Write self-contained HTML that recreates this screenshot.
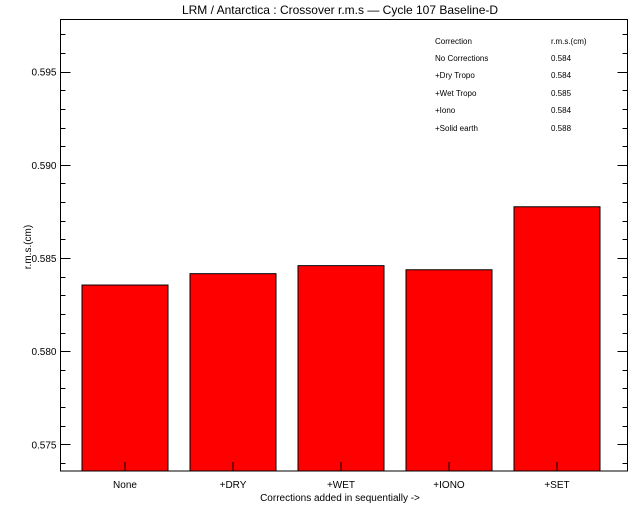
<!DOCTYPE html>
<html><head><meta charset="utf-8"><style>
body{margin:0;background:#fff}
svg{display:block;font-family:"Liberation Sans",sans-serif}
</style></head><body>
<svg id="chart" width="640" height="512">
<text x="340" y="14" font-size="12" text-anchor="middle">LRM / Antarctica : Crossover r.m.s — Cycle 107 Baseline-D</text>
<text x="31" y="247" font-size="10" text-anchor="middle" transform="rotate(-90 31 247)">r.m.s.(cm)</text>
<text x="340" y="501" font-size="10" text-anchor="middle">Corrections added in sequentially -&gt;</text>
<g id="bars"></g>
<g id="axes"></g>
<g font-size="8">
<text x="435" y="44">Correction</text><text x="551" y="44">r.m.s.(cm)</text>
<text x="435" y="61">No Corrections</text><text x="551" y="61">0.584</text>
<text x="435" y="78">+Dry Tropo</text><text x="551" y="78">0.584</text>
<text x="435" y="96">+Wet Tropo</text><text x="551" y="96">0.585</text>
<text x="435" y="113">+Iono</text><text x="551" y="113">0.584</text>
<text x="435" y="131">+Solid earth</text><text x="551" y="131">0.588</text>
</g>
</svg>
<script>
const categories=["None","+DRY","+WET","+IONO","+SET"];
const values=[0.58355,0.58416,0.58459,0.58437,0.58775];
const yTicks=[0.575,0.580,0.585,0.590,0.595];
const yTickLabels=["0.575","0.580","0.585","0.590","0.595"];
const NS="http://www.w3.org/2000/svg";
const L=60.5,R=627.5,T=19.5,B=471;
const yMin=0.57357,yMax=0.5978;
function y(v){return B-(v-yMin)/(yMax-yMin)*(B-T);}
function xc(i){return 125+i*108;}
function mk(tag,attrs,parent){const e=document.createElementNS(NS,tag);for(const k in attrs)e.setAttribute(k,attrs[k]);parent.appendChild(e);return e;}
const bars=document.getElementById('bars'),axes=document.getElementById('axes');
values.forEach((v,i)=>{
 const r=mk('rect',{x:xc(i)-43,y:y(v),width:86,height:B-y(v),fill:'#ff0000',stroke:'#000','stroke-width':1},bars);
 
 
 const t=mk('line',{x1:xc(i),x2:xc(i),y1:B,y2:B-9,stroke:'#000'},axes);
 
 
 const lb=mk('text',{x:xc(i),y:B+17,'font-size':10,'text-anchor':'middle'},axes);
 lb.textContent=categories[i];
 
 
});
const frame=mk('rect',{x:L,y:T,width:R-L,height:B-T,fill:'none',stroke:'#000'},axes);


for(let k=0;k<30;k++){
 const v=0.574+k*0.001; if(v>yMax) break;
 const yy=Math.round(y(v))+0.5; const major=k%5==1;
 const len=major?10:5;
 mk('line',{x1:L,x2:L+len,y1:yy,y2:yy,stroke:'#000'},axes);
 mk('line',{x1:R,x2:R-len,y1:yy,y2:yy,stroke:'#000'},axes);
}
yTicks.forEach((v,i)=>{
 const t=mk('text',{x:L-4,y:y(v)+4,'font-size':10,'text-anchor':'end'},axes);
 t.textContent=yTickLabels[i];
 
 
});
</script>
</body></html>
